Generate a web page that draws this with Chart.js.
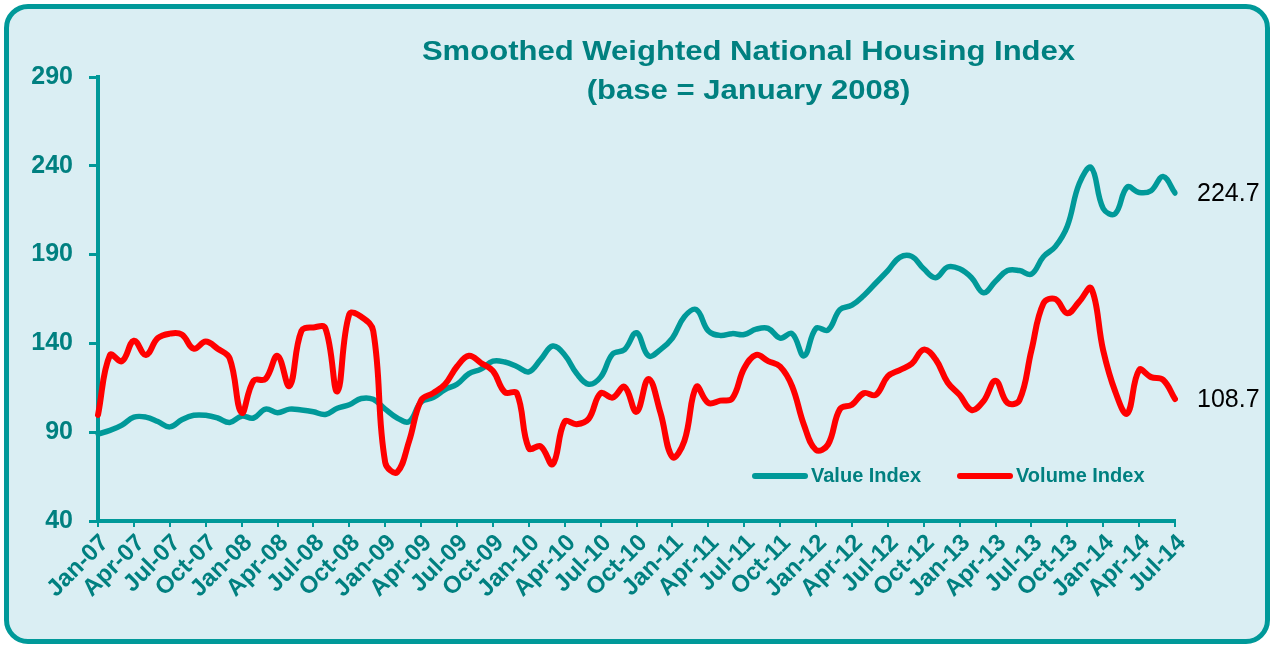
<!DOCTYPE html>
<html>
<head>
<meta charset="utf-8">
<script src="https://cdn.jsdelivr.net/npm/chart.js@4.4.0/dist/chart.umd.min.js"></script>
<style>
  html, body { margin: 0; padding: 0; background: #ffffff; }
  #frame {
    position: absolute; left: 4px; top: 4px; width: 1256px; height: 630px;
    border: 5px solid #009999; border-radius: 24px; background: #DAEEF3;
  }
  #wrap { position: absolute; left: 0; top: 0; width: 1274px; height: 648px; }
</style>
</head>
<body>
<div id="frame"></div>
<div id="wrap"><canvas id="housing" width="1274" height="648"></canvas></div>
<script>
// monthly, Jan-07 .. Jul-14
var months = [];
var monNames = ["Jan","Feb","Mar","Apr","May","Jun","Jul","Aug","Sep","Oct","Nov","Dec"];
for (var yr = 7; yr <= 14; yr++) {
  for (var mo = 0; mo < 12; mo++) {
    if (yr === 14 && mo > 6) break;
    months.push(monNames[mo] + "-" + (yr < 10 ? "0" + yr : yr));
  }
}

var valueIndex = [
  89, 91, 94, 98.5, 98.5, 96, 93, 97, 99.5, 99.5, 98, 95.5,
  99, 98, 103, 101, 103, 102.5, 101.5, 100, 103.5, 105.5, 109, 108.5,
  103, 98, 96, 107, 109.5, 114, 117, 123, 125.5, 130, 129.5, 127,
  124, 131, 138.5, 133.5, 123, 117, 121, 134, 136.5, 146, 133, 136.5,
  143, 155, 159, 147, 144.5, 145.5, 145, 148, 148.5, 143, 145.5, 133,
  148.5, 147.5, 159, 161.5, 167, 174, 181, 188.5, 189, 182, 177, 183,
  182, 177, 168.5, 175, 181, 181, 179, 188.8, 194.5, 206, 230, 239,
  216, 213, 228, 225, 226, 234, 224.7
];

var volumeIndex = [
  99.7, 133.5, 130, 141.5, 133.5, 143, 145.5, 145, 137, 141, 137, 131.6,
  101, 119, 120, 133, 116, 147, 149, 148.5, 113, 156.5, 155, 147,
  73, 67.5, 85, 108, 112, 117, 127, 133, 129, 124.5, 112.5, 112,
  81, 82, 72, 96, 94.5, 97.5, 112, 109.5, 115.5, 101.5, 120, 101,
  76, 85, 115.5, 106.5, 107.8, 109, 126, 133.5, 130, 127, 116, 94,
  80, 83, 103, 105.5, 112, 111, 121.5, 125, 128.5, 136.5, 131, 118,
  111, 102.5, 107.5, 119, 106.5, 108, 136, 162.5, 165, 157, 163.5, 171,
  136, 113, 100.5, 125, 121, 119.5, 108.7
];

var yTicks = [40, 90, 140, 190, 240, 290];
var titleLines = ["Smoothed Weighted National Housing Index", "(base = January 2008)"];

var TEAL = "#009999";
var TEXT_TEAL = "#008080";
var FONT = "'Liberation Sans', Arial, sans-serif";

var titlePlugin = {
  id: "titleText",
  afterDraw: function (chart) {
    var c = chart.ctx, a = chart.chartArea;
    var cx = a.left + (a.right - a.left) * 0.604;
    c.save();
    c.fillStyle = TEXT_TEAL;
    c.font = "bold 27px " + FONT;
    c.textAlign = "center";
    c.textBaseline = "middle";
    // the original title is a bit wider than the plain font
    c.translate(cx, 0);
    c.scale(1.15, 1);
    c.fillText(titleLines[0], 0, 53);
    c.fillText(titleLines[1], 0, 92);
    c.restore();
  }
};

var legendPlugin = {
  id: "innerLegend",
  afterDraw: function (chart) {
    var c = chart.ctx, a = chart.chartArea;
    var y = a.bottom - 45;
    var xs = [a.left + 657, a.left + 862];
    c.save();
    c.font = "bold 20px " + FONT;
    c.textBaseline = "middle";
    c.lineCap = "round";
    chart.data.datasets.forEach(function (ds, i) {
      c.strokeStyle = ds.borderColor;
      c.lineWidth = 6;
      c.beginPath();
      c.moveTo(xs[i], y);
      c.lineTo(xs[i] + 50, y);
      c.stroke();
      c.fillStyle = TEXT_TEAL;
      c.fillText(ds.label, xs[i] + 56, y);
    });
    c.restore();
  }
};

var endLabelPlugin = {
  id: "endLabels",
  afterDatasetsDraw: function (chart) {
    var c = chart.ctx;
    c.save();
    c.font = "25px " + FONT;
    c.fillStyle = "#000000";
    c.textBaseline = "middle";
    chart.data.datasets.forEach(function (ds, i) {
      var meta = chart.getDatasetMeta(i);
      var pt = meta.data[meta.data.length - 1];
      c.fillText(ds.data[ds.data.length - 1].toFixed(1), pt.x + 22, pt.y + 1);
    });
    c.restore();
  }
};

new Chart(document.getElementById("housing"), {
  type: "line",
  data: {
    labels: months,
    datasets: [
      {
        label: "Value Index",
        data: valueIndex,
        borderColor: TEAL,
        borderWidth: 5.5,
        order: 1
      },
      {
        label: "Volume Index",
        data: volumeIndex,
        borderColor: "#FF0000",
        borderWidth: 6,
        order: 0
      }
    ]
  },
  options: {
    responsive: false,
    animation: false,
    devicePixelRatio: 1,
    elements: {
      point: { radius: 0 },
      line: { tension: 0.4, borderCapStyle: "round", borderJoinStyle: "round", fill: false }
    },
    layout: { padding: { left: 0, top: 77, right: 99, bottom: 0 } },
    plugins: {
      legend: { display: false },
      title: { display: false },
      tooltip: { enabled: false }
    },
    scales: {
      x: {
        offset: false,
        afterFit: function (s) { s.height = 127; },
        border: { display: true, color: TEAL, width: 4 },
        grid: { drawOnChartArea: false, drawTicks: true, tickLength: 6, color: TEAL, lineWidth: 2 },
        ticks: {
          autoSkip: false,
          maxRotation: 45,
          minRotation: 45,
          padding: 2,
          labelOffset: 7,
          color: TEXT_TEAL,
          font: { family: FONT, size: 24, weight: "bold" },
          callback: function (v, i) { return i % 3 === 0 ? months[i] : null; }
        }
      },
      y: {
        min: yTicks[0],
        max: yTicks[yTicks.length - 1],
        afterFit: function (s) { s.width = 98; },
        afterBuildTicks: function (s) { s.ticks = yTicks.map(function (v) { return { value: v }; }); },
        border: { display: true, color: TEAL, width: 4 },
        grid: { drawOnChartArea: false, drawTicks: true, tickLength: 9, color: TEAL, lineWidth: 3 },
        ticks: {
          padding: 16,
          color: TEXT_TEAL,
          font: { family: FONT, size: 25, weight: "bold" }
        }
      }
    }
  },
  plugins: [titlePlugin, legendPlugin, endLabelPlugin]
});
</script>
</body>
</html>
